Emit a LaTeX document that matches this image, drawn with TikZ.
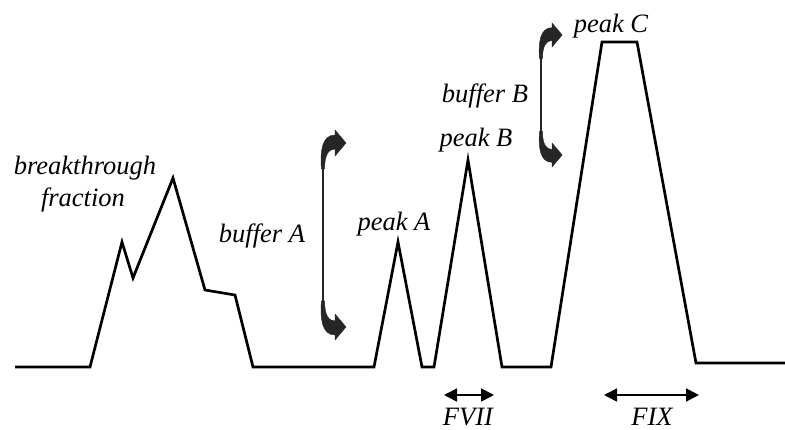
\documentclass[tikz,border=0pt]{standalone}
\usepackage{fontspec}
\setmainfont{Liberation Serif}
\usetikzlibrary{arrows.meta}
\tikzset{
  trace/.style={line width=2.7pt, line join=miter, line cap=butt},
  lbl/.style={font=\fontsize{26.5}{30}\selectfont\itshape, inner sep=0pt, anchor=base},
  spanarrow/.style={line width=1.6pt, {Triangle[length=13pt,width=13pt]}-{Triangle[length=13pt,width=13pt]}},
  hook/.style={fill=black!85, draw=black!85, line width=0.4pt},
  shaft/.style={line width=2.8pt, draw=black!85}
}
\newcommand\myhook{%
  (-1.6,26) .. controls (-3,8) and (-1,-8) .. (12,-8) -- (12,-13) -- (23,0) -- (12,13) -- (12,6)
  .. controls (6,6) and (1.6,11) .. (1.6,26) -- cycle}
\begin{document}
\begin{tikzpicture}[x=1pt,y=-1pt]
\useasboundingbox (0,0) rectangle (785,430);
\fill[white] (0,0) rectangle (785,430);

% chromatogram trace
\draw[trace] (15,367) -- (90,367) -- (122,242) -- (133,278) -- (173,178) -- (205,290)
  -- (235,295) -- (253,367) -- (374,367) -- (398,242) -- (422,367) -- (434,367)
  -- (468,160) -- (502,367) -- (551,367) -- (602,42) -- (637,42) -- (696,363) -- (785,363);

% bracket A
\coordinate (bAt) at (323,143);
\coordinate (bAb) at (323,327);
\draw[shaft] ([yshift=-24pt]bAt) -- ([yshift=24pt]bAb);
\begin{scope}[shift={(bAt)}] \path[hook] \myhook; \end{scope}
\begin{scope}[shift={(bAb)}, yscale=-1] \path[hook] \myhook; \end{scope}

% bracket B
\coordinate (bBt) at (541,35);
\coordinate (bBb) at (541,155);
\draw[shaft] ([yshift=-22pt]bBt) -- ([yshift=22pt]bBb);
\begin{scope}[shift={(bBt)}, scale=0.92] \path[hook] \myhook; \end{scope}
\begin{scope}[shift={(bBb)}, xscale=0.92, yscale=-0.92] \path[hook] \myhook; \end{scope}

% labels
\node[lbl] (bt) at (85,175) {breakthrough};
\node[lbl] (fr) at (83,207) {fraction};
\node[lbl] (bufA) at (262,243) {buffer A};
\node[lbl] (pkA) at (394,231) {peak A};
\node[lbl] (bufB) at (485,103) {buffer B};
\node[lbl] (pkB) at (476,147) {peak B};
\node[lbl] (pkC) at (611,33) {peak C};
\node[lbl] (fvii) at (468,425) {FVII};
\node[lbl] (fix) at (652,425) {FIX};

% ranges
\coordinate (f7l) at (444,395);
\coordinate (f7r) at (494,395);
\coordinate (f9l) at (604,395);
\coordinate (f9r) at (699,395);
\draw[spanarrow] (f7l) -- (f7r);
\draw[spanarrow] (f9l) -- (f9r);
\end{tikzpicture}
\end{document}
